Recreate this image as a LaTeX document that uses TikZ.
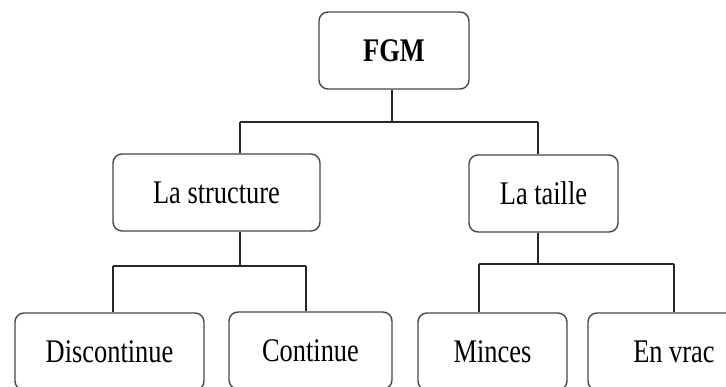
\documentclass[tikz,border=0pt]{standalone}
\usepackage{fontspec}
\setmainfont{Liberation Serif}[FakeStretch=0.8]
\begin{document}
\begin{tikzpicture}[x=1pt,y=-1pt,
  box/.style={draw=black!72, line width=1.4pt, rounded corners=9pt, inner sep=0pt,
    minimum height=77pt, font=\fontsize{33}{40}\selectfont},
  link/.style={draw=black!85, line width=1.3pt}]
\useasboundingbox (0,0) rectangle (726,387);
\clip (0,0) rectangle (726,387);
\node[box, minimum width=150pt, font=\fontsize{33}{40}\selectfont\bfseries] (fgm) at (394,50.5) {FGM};
\node[box, minimum width=207pt] (struct) at (216.5,192.5) {La structure};
\node[box, minimum width=149pt] (taille) at (543.5,193.5) {La taille};
\node[box, minimum width=189pt] (disc) at (109.5,351.5) {Discontinue};
\node[box, minimum width=163pt] (cont) at (310.5,350.5) {Continue};
\node[box, minimum width=149pt] (minc) at (492.5,351.5) {Minces};
\node[box, minimum width=172pt] (vrac) at (674,351.5) {En vrac};
% junction coordinates
\coordinate (j0) at (392,122);
\coordinate (j0l) at (240,122);
\coordinate (j0r) at (538,122);
\coordinate (j1) at (240,266);
\coordinate (j1l) at (113,266);
\coordinate (j1r) at (306,266);
\coordinate (j2) at (538,264);
\coordinate (j2l) at (479,264);
\coordinate (j2r) at (674,264);
\draw[link] (fgm.south -| j0) -- (j0);
\draw[link] (j0l) -- (j0r);
\draw[link] (j0l) -- (j0l |- struct.north);
\draw[link] (j0r) -- (j0r |- taille.north);
\draw[link] (struct.south -| j1) -- (j1);
\draw[link] (j1l) -- (j1r);
\draw[link] (j1l) -- (j1l |- disc.north);
\draw[link] (j1r) -- (j1r |- cont.north);
\draw[link] (taille.south -| j2) -- (j2);
\draw[link] (j2l) -- (j2r);
\draw[link] (j2l) -- (j2l |- minc.north);
\draw[link] (j2r) -- (j2r |- vrac.north);
\end{tikzpicture}
\end{document}
